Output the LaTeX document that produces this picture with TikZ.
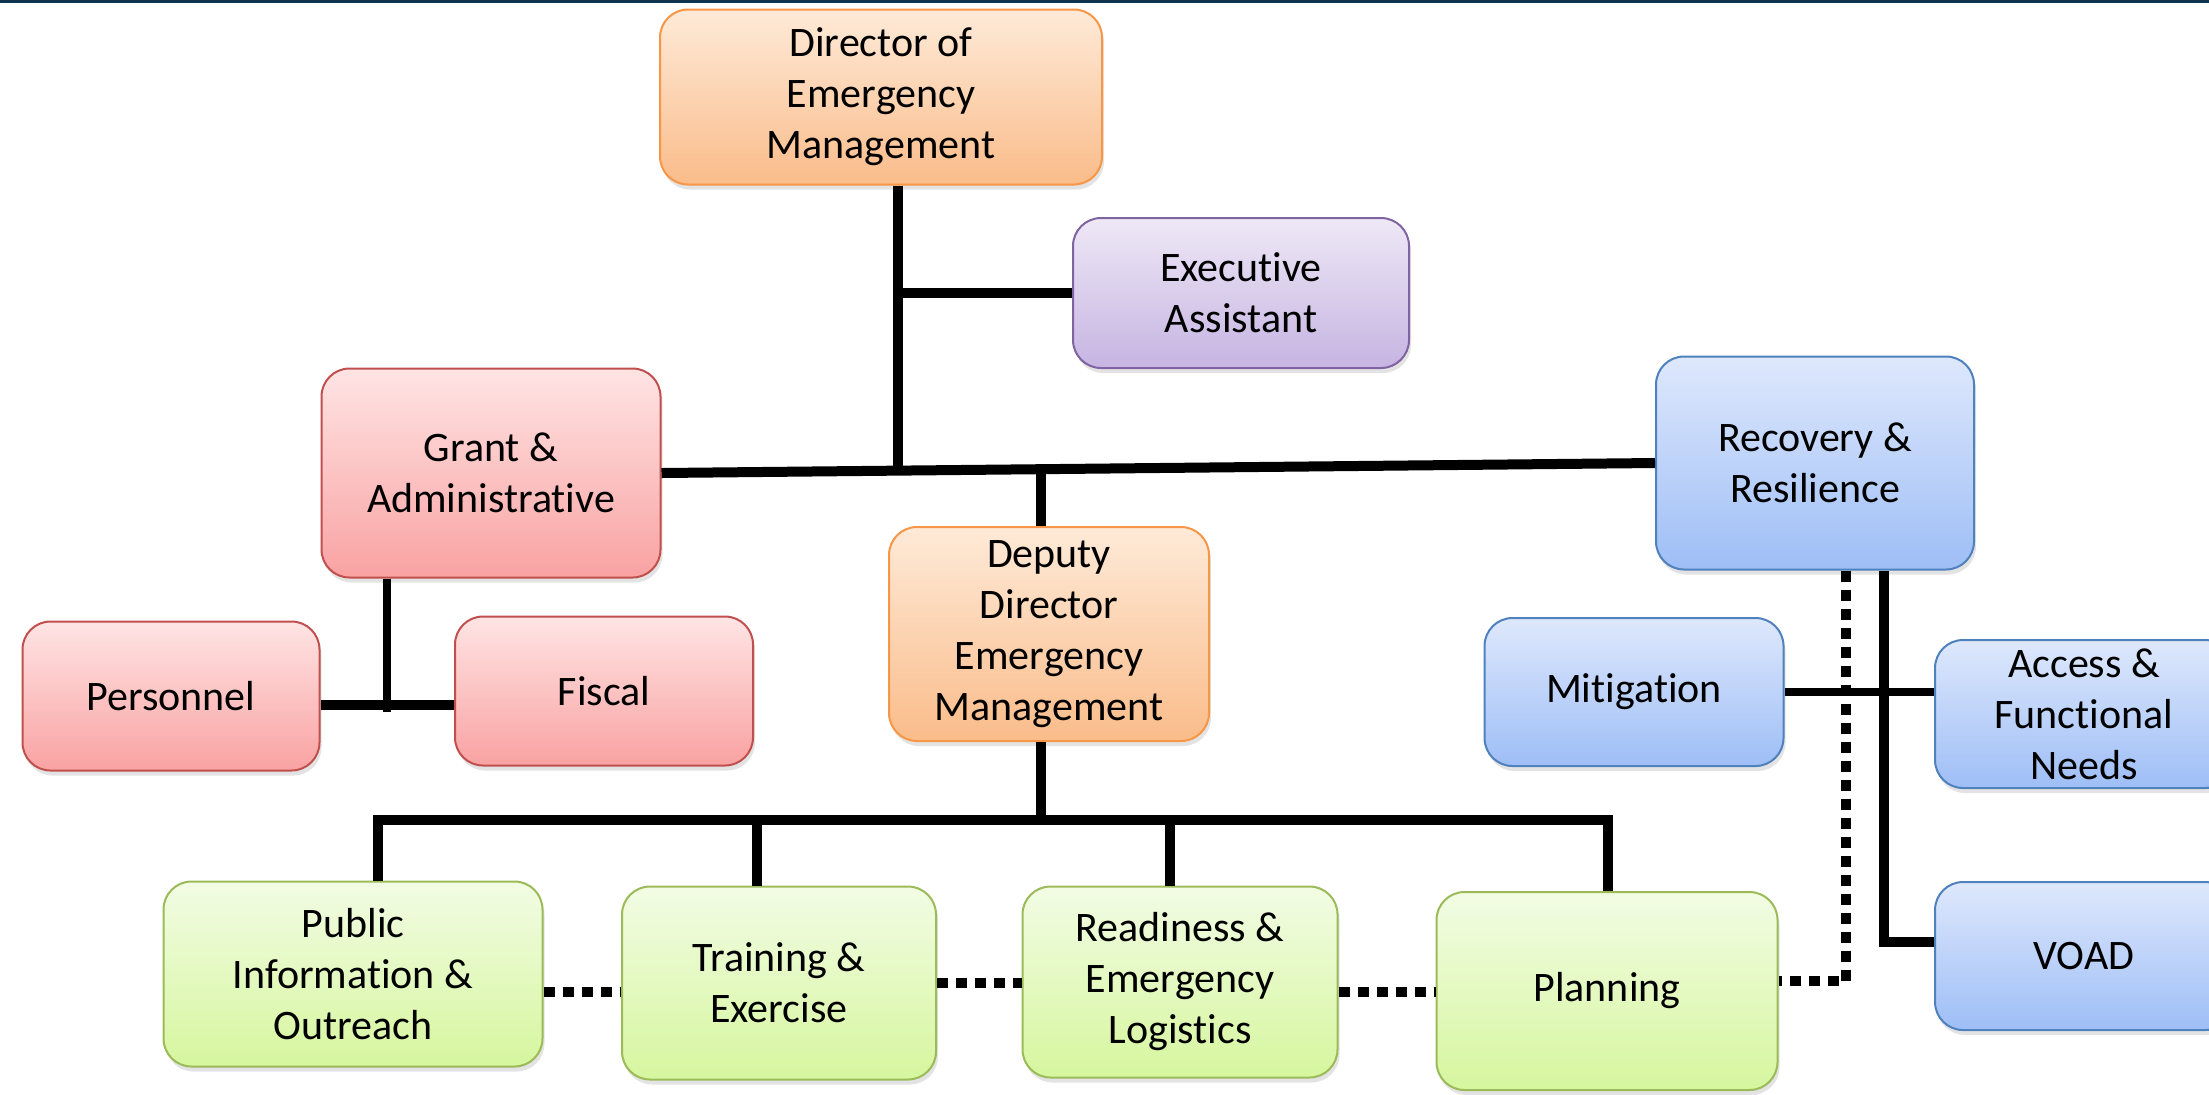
\documentclass[tikz,border=0pt]{standalone}
\usepackage{fontspec}
\setmainfont{Carlito}[Ligatures=NoCommon]
\usetikzlibrary{shadows}
\definecolor{navy}{RGB}{14,52,80}
\definecolor{orT}{RGB}{254,234,216}
\definecolor{orB}{RGB}{250,188,138}
\definecolor{orD}{RGB}{247,150,70}
\definecolor{puT}{RGB}{238,232,246}
\definecolor{puB}{RGB}{198,180,226}
\definecolor{puD}{RGB}{128,100,162}
\definecolor{reT}{RGB}{255,228,228}
\definecolor{reB}{RGB}{249,162,162}
\definecolor{reD}{RGB}{192,80,77}
\definecolor{blT}{RGB}{222,232,252}
\definecolor{blB}{RGB}{158,190,246}
\definecolor{blD}{RGB}{79,129,189}
\definecolor{grT}{RGB}{242,252,228}
\definecolor{grB}{RGB}{214,246,158}
\definecolor{grD}{RGB}{155,187,89}
\tikzset{
  box/.style={draw, line width=1pt, rounded corners=14pt, align=center,
    font=\fontsize{21}{25.5}\selectfont, inner sep=0pt,
    drop shadow={opacity=0.22, shadow xshift=1pt, shadow yshift=-2.5pt}},
  orgbox/.style={box, draw=orD, top color=orT, bottom color=orB},
  purbox/.style={box, draw=puD, top color=puT, bottom color=puB},
  redbox/.style={box, draw=reD, top color=reT, bottom color=reB},
  blubox/.style={box, draw=blD, top color=blT, bottom color=blB},
  grnbox/.style={box, draw=grD, top color=grT, bottom color=grB},
  conn/.style={draw=black, line width=5pt},
  thinconn/.style={draw=black, line width=4pt},
  dotconn/.style={draw=black, line width=4.7pt, dash pattern=on 5.5pt off 4pt}
}
\begin{document}
\begin{tikzpicture}[x=0.5pt,y=-0.5pt]
\useasboundingbox (0,0) rectangle (2209,1094);
\clip (0,0) rectangle (2209,1094);
\fill[navy] (0,0) rectangle (2209,3);

% nodes
\node[orgbox, minimum width=221pt, minimum height=87.5pt] (dir) at (881,97) {Director of\\Emergency\\Management};
\node[purbox, minimum width=168pt, minimum height=75pt] (exec) at (1241,293) {Executive\\Assistant};
\node[redbox, minimum width=169.5pt, minimum height=104.5pt] (grant) at (491,473) {Grant \&\\Administrative};
\node[redbox, minimum width=148.5pt, minimum height=74.5pt] (pers) at (171,696) {Personnel};
\node[redbox, minimum width=149pt, minimum height=74.5pt] (fisc) at (604,691) {Fiscal};
\node[orgbox, minimum width=160pt, minimum height=107pt] (dep) at (1049,634) {Deputy\\Director\\Emergency\\Management};
\node[blubox, minimum width=159pt, minimum height=106.5pt] (rec) at (1815,463) {Recovery \&\\Resilience};
\node[blubox, minimum width=149.5pt, minimum height=74pt] (mit) at (1634,692) {Mitigation};
\node[blubox, minimum width=149pt, minimum height=74pt] (acc) at (2084,714) {Access \&\\Functional\\Needs};
\node[blubox, minimum width=149pt, minimum height=74pt] (voad) at (2084,956) {VOAD};
\node[grnbox, minimum width=189.5pt, minimum height=92.5pt] (pub) at (353,974) {Public\\Information \&\\Outreach};
\node[grnbox, minimum width=157pt, minimum height=96.5pt] (train) at (779,983) {Training \&\\Exercise};
\node[grnbox, minimum width=157.5pt, minimum height=95.5pt] (ready) at (1180,982) {Readiness \&\\Emergency\\Logistics};
\node[grnbox, minimum width=170.5pt, minimum height=99pt] (plan) at (1607,991) {Planning};

% junction coordinates
\coordinate (dj) at (898,471);
\coordinate (dpj) at (1041,470);
\coordinate (bus) at (1041,820);
\coordinate (busL) at (378,820);
\coordinate (busR) at (1608,820);
\coordinate (tdrop) at (757,820);
\coordinate (rdrop) at (1170,820);
\coordinate (gj) at (387,705);
\coordinate (rc) at (1884,942);
\coordinate (dc) at (1846,981);

% solid connectors
\draw[conn] (grant.east) -- (rec.west);
\draw[conn] (dir.south -| dj) -- (dj);
\draw[conn] (dj |- exec.west) -- (exec.west);
\draw[conn] (dpj) -- (dpj |- dep.north);
\draw[conn] (dep.south -| bus) -- (bus);
\draw[conn] (busL |- pub.north) -- (busL) -- (busR) -- (busR |- plan.north);
\draw[conn] (tdrop) -- (tdrop |- train.north);
\draw[conn] (rdrop) -- (rdrop |- ready.north);
\draw[thinconn] (grant.south -| gj) -- ([yshift=-3.5pt]gj);
\draw[conn] (pers.east |- gj) -- (fisc.west |- gj);
\draw[conn] (rec.south -| rc) -- (rc) -- (voad.west |- rc);
\draw[thinconn] (mit.east) -- (mit.east -| acc.west);

% dotted connectors
\draw[dotconn] (rec.south -| dc) -- (dc) -- (dc -| plan.east);
\draw[dotconn] ([yshift=-9pt]pub.east) -- ([yshift=-9pt]pub.east -| train.west);
\draw[dotconn] (train.east) -- (train.east -| ready.west);
\draw[dotconn] ([yshift=-5pt]ready.east) -- ([yshift=-5pt]ready.east -| plan.west);
\end{tikzpicture}
\end{document}
